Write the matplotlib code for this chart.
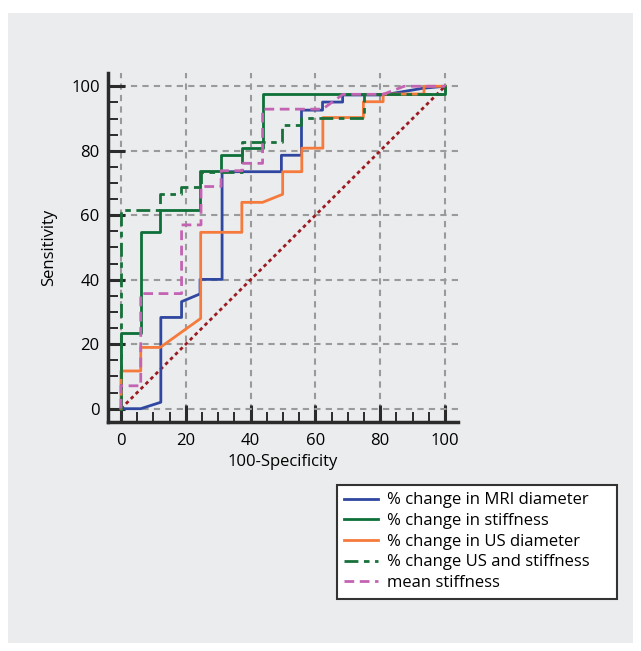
import matplotlib
matplotlib.use('Agg')
import matplotlib.pyplot as plt
from matplotlib.patches import Rectangle
from matplotlib.ticker import MultipleLocator

plt.rcParams['font.family'] = ['Open Sans', 'DejaVu Sans']

# ROC curves (x = 100-specificity, y = sensitivity)
mri_x = [0, 6.1, 12.3, 12.3, 18.7, 18.7, 24.4, 24.4, 31.2, 31.2, 49.5, 49.5, 55.7, 55.7, 62.2, 62.2, 68.4, 68.4, 80.9, 93.3, 100]
mri_y = [0, 0, 2.0, 28.3, 28.3, 33.2, 35.6, 40.1, 40.1, 73.5, 73.5, 78.6, 78.6, 92.6, 92.6, 95.1, 95.1, 97.3, 97.3, 99.4, 100]

stiff_x = [0, 0, 6.1, 6.1, 12.1, 12.1, 24.5, 24.5, 31.0, 31.0, 37.2, 37.2, 43.7, 43.7, 100, 100]
stiff_y = [0, 23.6, 23.6, 54.7, 54.7, 61.6, 61.6, 73.8, 73.8, 78.7, 78.7, 80.7, 80.7, 97.6, 97.6, 100]

us_x = [0, 0, 6.1, 6.1, 12.1, 24.6, 24.6, 37.3, 37.3, 43.7, 49.9, 49.9, 55.8, 55.8, 62.3, 62.3, 74.8, 74.8, 80.9, 80.9, 93.5, 93.5, 100]
us_y = [0, 11.7, 11.7, 19.0, 19.0, 28.0, 54.7, 54.7, 64.0, 64.0, 66.5, 73.5, 73.5, 80.8, 80.8, 90.3, 90.3, 95.2, 95.2, 97.6, 97.6, 100, 100]

combo_x = [0, 0, 12.1, 12.1, 18.6, 18.6, 24.6, 24.6, 37.2, 37.2, 49.7, 49.7, 55.7, 55.7, 75.1, 75.1, 100, 100]
combo_y = [0, 61.6, 61.6, 66.6, 66.6, 68.9, 68.9, 73.5, 73.5, 82.8, 82.8, 88.0, 88.0, 90.3, 90.3, 97.6, 97.6, 100]

mean_x = [0, 0, 6.1, 6.1, 18.7, 18.7, 24.7, 24.7, 30.9, 30.9, 37.4, 37.4, 43.7, 43.7, 62.2, 68.5, 80.9, 87.4, 100]
mean_y = [0, 7.1, 7.1, 35.7, 35.7, 57.0, 57.0, 68.9, 68.9, 73.8, 73.8, 76.1, 76.1, 92.9, 92.9, 97.5, 97.5, 100, 100]

labels = ['% change in MRI diameter', '% change in stiffness', '% change in US diameter',
          '% change US and stiffness', 'mean stiffness']

bg = '#ebeced'
fig = plt.figure(figsize=(6.41, 6.51), dpi=100)
fig.patches.append(Rectangle((8 / 641, 8 / 651), 625 / 641, 630 / 651,
                             transform=fig.transFigure, facecolor=bg, edgecolor='none', zorder=-10))

ax = fig.add_axes([0.1685, 0.3524, 0.546, 0.5349])
ax.set_facecolor(bg)

# reference diagonal
ax.plot([0, 100], [0, 100], color='#9b1b22', lw=2, linestyle=(0, (1.3, 1.2)), zorder=2)

ax.plot(mri_x, mri_y, color='#2f47a0', lw=2, label=labels[0], zorder=3)
ax.plot(stiff_x, stiff_y, color='#0c7038', lw=2, label=labels[1], zorder=3)
ax.plot(us_x, us_y, color='#f57a3c', lw=2, label=labels[2], zorder=3)
ax.plot(combo_x, combo_y, color='#17703a', lw=2, linestyle=(0, (5, 2, 2, 2)), label=labels[3], zorder=4)
ax.plot(mean_x, mean_y, color='#c463b4', lw=2, linestyle=(0, (3.5, 2)), label=labels[4], zorder=4)

ax.set_xlim(-4, 104)
ax.set_ylim(-4, 104)
ax.xaxis.set_major_locator(MultipleLocator(20))
ax.yaxis.set_major_locator(MultipleLocator(20))
ax.xaxis.set_minor_locator(MultipleLocator(5))
ax.yaxis.set_minor_locator(MultipleLocator(5))
ax.tick_params(which='major', direction='in', length=12, width=2.2, color='#2b2b2b',
               labelsize=12, pad=6)
ax.tick_params(which='minor', direction='in', length=7, width=1.4, color='#2b2b2b')
ax.tick_params(axis='x', which='major', pad=8)

for side in ['top', 'right']:
    ax.spines[side].set_visible(False)
for side in ['left', 'bottom']:
    ax.spines[side].set_linewidth(2.5)
    ax.spines[side].set_color('#2b2b2b')

ax.grid(True, which='major', color='#9a9a9a', lw=1.5, linestyle=(0, (3, 2.5)), zorder=1)
ax.set_axisbelow(True)

ax.set_xlabel('100-Specificity', fontsize=12, labelpad=4)
ax.set_ylabel('Sensitivity', fontsize=12, labelpad=10)

leg = fig.legend(loc='upper left', bbox_to_anchor=(0.5257, 0.078, 0.437, 0.177), mode='expand',
                 fontsize=12, handlelength=2.0, handletextpad=0.55, labelspacing=0.28,
                 borderpad=0.45, borderaxespad=0, fancybox=False, framealpha=1)
leg.get_frame().set_edgecolor('#333333')
leg.get_frame().set_linewidth(1.5)

fig.savefig('out.png', dpi=100, facecolor='white')
